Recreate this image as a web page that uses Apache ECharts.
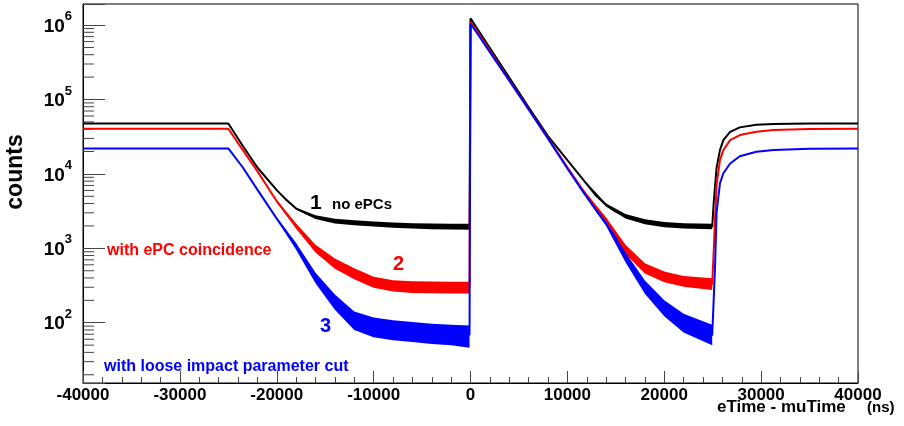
<!DOCTYPE html>
<html>
<head>
<meta charset="utf-8">
<script src="https://cdn.jsdelivr.net/npm/echarts@6/dist/echarts.min.js"></script>
<style>
  html, body { margin: 0; padding: 0; background: #fff; }
  #chart { width: 904px; height: 426px; }
</style>
</head>
<body>
<div id="chart"></div>
<script>
// eTime - muTime (ns)
const times = [-40000, -25000, -23500, -22000, -20000, -19000, -18000, -17000, -16500, -15000, -13500, -12000, -10500,
  -9000, -7000, -5000, -2500, -100, 0, 2000, 4000, 6000, 8000, 10000, 11500, 13000, 14000, 15000,
  16000, 17000, 18500, 20000, 21500, 23000, 24950, 25100, 25250, 25400, 25750, 26100, 26800, 27800,
  29500, 31300, 35000, 40000];

// 1: no ePCs
const noEpc = [47700, 47700, 23700, 12200, 6060, 4450, 3420, 2970, 2770, 2410, 2290, 2200, 2140,
  2090, 2020, 1990, 1960, 1950, 1230000, 491000, 197000, 78500, 32200, 15300, 8790, 5040, 3810, 3110,
  2710, 2430, 2220, 2080, 2030, 1990, 1960, 4000, 7000, 12000, 20900, 28400, 36800, 42200,
  45700, 46700, 47500, 47700];
// 2: with ePC coincidence
const epcCoinc = [40500, 40500, 20900, 10900, 4300, 2900, 1990, 1400, 1170, 762, 577, 457, 368,
  320, 305, 300, 298, 298, 1110000, 450000, 183000, 74500, 30400, 12300, 6340, 3470, 2430, 1460,
  975, 673, 486, 414, 368, 346, 330, 900, 2650, 7000, 15300, 20900, 28400, 33300,
  36800, 38800, 40000, 40500];
// 3: with loose impact parameter cut
const looseIp = [22000, 22000, 12200, 6150, 2510, 1650, 1070, 680, 542, 283, 173, 108, 91,
  84, 80, 75, 71, 69, 1050000, 433000, 179000, 73600, 29800, 11800, 6050, 3210, 2150, 1370,
  762, 444, 254, 157, 105, 81, 68, 200, 600, 3000, 7450, 10200, 13800, 17300,
  19800, 20900, 21800, 22000];

// spread of the noisy flat parts
const bandLeftTimes = [-20000, -18000, -16000, -14000, -12000, -10000, -8000, -6000, -4000, -2000, -100];
const noEpcLeftHi = [6150, 3520, 2780, 2500, 2380, 2300, 2230, 2180, 2160, 2140, 2140];
const noEpcLeftLo = [5970, 3320, 2470, 2150, 2040, 1960, 1890, 1840, 1810, 1790, 1780];
const epcLeftHi = [4450, 2150, 1120, 730, 540, 415, 372, 360, 358, 356, 356];
const epcLeftLo = [4150, 1830, 880, 530, 385, 295, 262, 252, 250, 248, 248];
const ipLeftHi = [2600, 1180, 470, 240, 142, 118, 108, 102, 97, 94, 92];
const ipLeftLo = [2420, 960, 340, 150, 80, 64, 58, 55, 52, 50, 46];

const bandRightTimes = [12000, 14000, 16000, 18000, 20000, 22000, 24950];
const noEpcRightHi = [7600, 4000, 2900, 2450, 2250, 2180, 2140];
const noEpcRightLo = [7200, 3650, 2520, 2100, 1920, 1850, 1800];
const epcRightHi = [5400, 2600, 1120, 630, 490, 425, 395];
const epcRightLo = [4980, 2260, 840, 460, 350, 305, 275];
const ipRightHi = [5150, 2300, 880, 370, 200, 132, 94];
const ipRightLo = [4680, 2000, 650, 245, 122, 74, 50];

// axes
const xMin = -40000, xMax = 40000, xStep = 10000;
const yMin = 15.5, yMax = 1.92e6;
const decades = [10, 100, 1000, 10000, 100000, 1000000];
const logSteps = [2, 3, 4, 5, 6, 7, 8, 9];

const FONT = 'Liberation Sans, Arial, Helvetica, sans-serif';
const BLACK = '#000000', RED = '#ff0000', BLUE = '#0000ff';

function pairs(xs, ys) {
  return xs.map((x, i) => [x, ys[i]]);
}

function curve(name, ys, color) {
  return {
    name: name,
    type: 'line',
    data: pairs(times, ys),
    showSymbol: false,
    symbol: 'none',
    lineStyle: { color: color, width: 2 },
    silent: true
  };
}

function band(xs, hi, lo, color) {
  return {
    type: 'custom',
    silent: true,
    data: [[xs[0], hi[0]]],
    renderItem: function (params, api) {
      const pts = [];
      for (let i = 0; i < xs.length; i++) pts.push(api.coord([xs[i], hi[i]]));
      for (let i = xs.length - 1; i >= 0; i--) pts.push(api.coord([xs[i], lo[i]]));
      return { type: 'polygon', shape: { points: pts }, style: { fill: color } };
    }
  };
}

// minor ticks of the log axis, 2..9 in every decade
const minorTicks = [];
decades.forEach(function (d) {
  logSteps.forEach(function (s) {
    const v = d * s;
    if (v > yMin && v < yMax) minorTicks.push([xMin, v]);
  });
});

function text(x, y, str, size, color, extra) {
  return Object.assign({
    type: 'text',
    x: x,
    y: y,
    silent: true,
    style: {
      text: str,
      font: 'bold ' + size + 'px ' + FONT,
      fill: color,
      align: 'left',
      verticalAlign: 'middle',
      textAlign: 'left',
      textVerticalAlign: 'middle'
    }
  }, extra || {});
}

const chart = echarts.init(document.getElementById('chart'));

chart.setOption({
  animation: false,
  backgroundColor: '#fff',
  grid: {
    left: 83, right: 46, top: 4, bottom: 43,
    show: true, borderColor: '#000', borderWidth: 1, backgroundColor: 'transparent'
  },
  xAxis: {
    type: 'value',
    min: xMin, max: xMax, interval: xStep,
    axisLine: { onZero: false, lineStyle: { color: '#000', width: 1 } },
    axisTick: { inside: true, length: 12, lineStyle: { color: '#444' } },
    minorTick: { show: true, splitNumber: 5, length: 6, lineStyle: { color: '#444' } },
    splitLine: { show: false },
    minorSplitLine: { show: false },
    axisLabel: {
      margin: 4, color: '#000', fontSize: 17, fontWeight: 'bold', fontFamily: FONT,
      formatter: function (v) { return String(v); }
    }
  },
  yAxis: {
    type: 'log',
    logBase: 10,
    min: yMin, max: yMax,
    axisLine: { show: true, onZero: false, lineStyle: { color: '#000', width: 1 } },
    axisTick: { show: true, inside: true, length: 22, lineStyle: { color: '#444' } },
    splitLine: { show: false },
    axisLabel: {
      margin: 11,
      formatter: function (v) {
        const e = Math.log10(v);
        const n = Math.round(e);
        if (Math.abs(e - n) > 0.01) return '';
        return '{b|10}{s|' + n + '}';
      },
      rich: {
        b: { fontSize: 19, fontWeight: 'bold', fontFamily: FONT, color: '#000', lineHeight: 34, padding: [3, 0, 0, 0] },
        s: { fontSize: 13, fontWeight: 'bold', fontFamily: FONT, color: '#000', lineHeight: 12, verticalAlign: 'top', padding: [2, 0, 0, 0] }
      }
    }
  },
  series: [
    curve('no ePCs', noEpc, BLACK),
    band(bandLeftTimes, noEpcLeftHi, noEpcLeftLo, BLACK),
    band(bandRightTimes, noEpcRightHi, noEpcRightLo, BLACK),
    curve('with ePC coincidence', epcCoinc, RED),
    band(bandLeftTimes, epcLeftHi, epcLeftLo, RED),
    band(bandRightTimes, epcRightHi, epcRightLo, RED),
    curve('with loose impact parameter cut', looseIp, BLUE),
    band(bandLeftTimes, ipLeftHi, ipLeftLo, BLUE),
    band(bandRightTimes, ipRightHi, ipRightLo, BLUE),
    {
      type: 'custom',
      silent: true,
      data: minorTicks,
      renderItem: function (params, api) {
        const p = api.coord([api.value(0), api.value(1)]);
        return {
          type: 'line',
          shape: { x1: p[0], y1: p[1], x2: p[0] + 11, y2: p[1] },
          style: { stroke: '#444', lineWidth: 1 }
        };
      }
    }
  ],
  graphic: [
    text(310, 203, '1', 21, BLACK),
    text(332, 205, 'no ePCs', 15, BLACK),
    text(393, 264, '2', 20, RED),
    text(320, 326, '3', 20, BLUE),
    text(107, 251, 'with ePC coincidence', 16, RED),
    text(104, 367, 'with loose impact parameter cut', 16, BLUE),
    text(717, 407, 'eTime - muTime', 17, BLACK),
    text(867, 408, '(ns)', 15, BLACK),
    text(16, 172, 'counts', 23, BLACK, { rotation: Math.PI / 2, style: {
      text: 'counts', font: 'bold 23px ' + FONT, fill: BLACK,
      align: 'center', verticalAlign: 'middle', textAlign: 'center', textVerticalAlign: 'middle'
    } })
  ]
});
</script>
</body>
</html>
